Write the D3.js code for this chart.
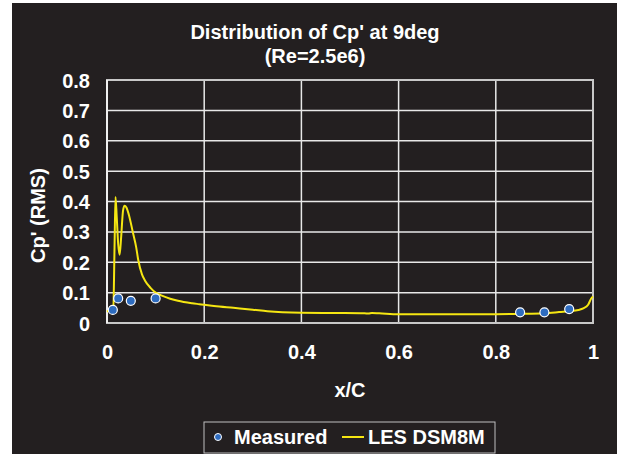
<!DOCTYPE html>
<html>
<head>
<meta charset="utf-8">
<script src="https://cdn.jsdelivr.net/npm/d3@7"></script>
<style>
  html, body { margin: 0; padding: 0; background: #ffffff; }
  svg { display: block; }
  text { font-family: "Liberation Sans", Arial, sans-serif; font-weight: bold; fill: #ffffff; }
</style>
</head>
<body>
<svg id="chart" width="617" height="454"></svg>
<script>
// Measured Cp' (RMS) points
const measuredX = [0.012, 0.023, 0.049, 0.100, 0.850, 0.900, 0.951];
const measuredY = [0.043, 0.081, 0.073, 0.081, 0.035, 0.035, 0.046];

// LES DSM8M Cp' (RMS) distribution along the chord
const lesX = [0.000, 0.006, 0.013, 0.0155, 0.0175, 0.020, 0.023, 0.026, 0.029, 0.033,
              0.036, 0.040, 0.046, 0.053, 0.060, 0.064, 0.072, 0.078, 0.090, 0.100,
              0.113, 0.130, 0.146, 0.175, 0.190, 0.220, 0.260, 0.300, 0.330, 0.400,
              0.470, 0.530, 0.538, 0.545, 0.560, 0.600, 0.700, 0.800, 0.850, 0.900,
              0.930, 0.950, 0.970, 0.980, 0.990, 0.996, 1.000];
const lesY = [0.038, 0.042, 0.050, 0.250, 0.415, 0.350, 0.260, 0.225, 0.280, 0.370,
              0.386, 0.380, 0.350, 0.300, 0.250, 0.210, 0.160, 0.140, 0.115, 0.100,
              0.090, 0.080, 0.073, 0.065, 0.062, 0.056, 0.050, 0.044, 0.039, 0.034,
              0.033, 0.032, 0.031, 0.033, 0.032, 0.029, 0.029, 0.029, 0.030, 0.032,
              0.036, 0.039, 0.043, 0.048, 0.060, 0.080, 0.087];

const xTicks = [0, 0.2, 0.4, 0.6, 0.8, 1];
const yTicks = [0, 0.1, 0.2, 0.3, 0.4, 0.5, 0.6, 0.7, 0.8];

const titleLines = ["Distribution of Cp' at 9deg", "(Re=2.5e6)"];
const xTitle = "x/C";
const yTitle = "Cp' (RMS)";
const seriesNames = ["Measured", "LES DSM8M"];

const bg = "#231f20";
const lineColor = "#f5e612";
const dotColor = "#2e6cc0";
const fontSize = 20;

const svg = d3.select("#chart");
svg.append("rect").attr("x", 12).attr("y", 3).attr("width", 605).attr("height", 451).attr("fill", bg);

const plot = { left: 107, right: 593, top: 80, bottom: 323 };
const x = d3.scaleLinear().domain([0, 1]).range([plot.left, plot.right]);
const y = d3.scaleLinear().domain([0, 0.8]).range([plot.bottom, plot.top]);

// gridlines
const grid = svg.append("g");
grid.selectAll("line.h").data(yTicks.slice(1)).join("line")
  .attr("x1", plot.left).attr("x2", plot.right)
  .attr("y1", d => y(d)).attr("y2", d => y(d))
  .attr("stroke", "#e8e8e8").attr("stroke-width", 1.5);
grid.selectAll("line.v").data(xTicks.slice(1, -1)).join("line")
  .attr("y1", plot.top).attr("y2", plot.bottom)
  .attr("x1", d => x(d)).attr("x2", d => x(d))
  .attr("stroke", "#e8e8e8").attr("stroke-width", 1.5);

// plot frame
svg.append("rect")
  .attr("x", plot.left).attr("y", plot.top)
  .attr("width", plot.right - plot.left).attr("height", plot.bottom - plot.top)
  .attr("fill", "none").attr("stroke", "#c8c8c8").attr("stroke-width", 2);
svg.append("line").attr("x1", plot.left).attr("x2", plot.left)
  .attr("y1", plot.top).attr("y2", plot.bottom)
  .attr("stroke", "#f0f0f0").attr("stroke-width", 2);

// axes (labels only)
const xAxis = svg.append("g").attr("transform", `translate(0,${plot.bottom})`)
  .call(d3.axisBottom(x).tickValues(xTicks).tickFormat(d3.format("")).tickSize(0).tickPadding(0));
xAxis.select(".domain").remove();
xAxis.selectAll("text").attr("dy", null).attr("y", 36).attr("font-size", fontSize)
  .attr("font-family", "Liberation Sans, Arial, sans-serif").attr("font-weight", "bold").attr("fill", "#fff");

const yAxis = svg.append("g").attr("transform", `translate(${plot.left},0)`)
  .call(d3.axisLeft(y).tickValues(yTicks).tickFormat(d3.format("")).tickSize(0).tickPadding(0));
yAxis.select(".domain").remove();
yAxis.selectAll("text").attr("x", -17).attr("dy", "0.35em").attr("font-size", fontSize)
  .attr("font-family", "Liberation Sans, Arial, sans-serif").attr("font-weight", "bold").attr("fill", "#fff");

// titles
svg.selectAll("text.title").data(titleLines).join("text").attr("class", "title")
  .attr("x", 315).attr("y", (d, i) => 39 + i * 24)
  .attr("text-anchor", "middle").attr("font-size", fontSize).text(d => d);

svg.append("text").attr("x", (plot.left + plot.right) / 2).attr("y", 397)
  .attr("text-anchor", "middle").attr("font-size", fontSize).text(xTitle);

svg.append("text").attr("transform", `translate(45,${(plot.top + plot.bottom) / 2 + 14}) rotate(-90)`)
  .attr("text-anchor", "middle").attr("font-size", fontSize).text(yTitle);

// LES curve
const lesData = lesX.map((v, i) => [v, lesY[i]]);
svg.append("path").datum(lesData)
  .attr("fill", "none").attr("stroke", lineColor).attr("stroke-width", 2)
  .attr("stroke-linejoin", "round")
  .attr("d", d3.line().x(d => x(d[0])).y(d => y(d[1])).curve(d3.curveMonotoneX));

// measured points
const measData = measuredX.map((v, i) => [v, measuredY[i]]);
svg.selectAll("circle.m").data(measData).join("circle")
  .attr("cx", d => x(d[0])).attr("cy", d => y(d[1])).attr("r", 4.5)
  .attr("fill", dotColor).attr("stroke", "#ffffff").attr("stroke-width", 1.2);

// legend
const lg = svg.append("g");
lg.append("rect").attr("x", 204).attr("y", 422).attr("width", 291).attr("height", 31)
  .attr("fill", bg).attr("stroke", "#bfbfbf").attr("stroke-width", 1);
lg.append("circle").attr("cx", 218).attr("cy", 437).attr("r", 3.5)
  .attr("fill", dotColor).attr("stroke", "#fff").attr("stroke-width", 1);
lg.append("text").attr("x", 234).attr("y", 444).attr("font-size", fontSize).text(seriesNames[0]);
lg.append("line").attr("x1", 342).attr("x2", 364).attr("y1", 437).attr("y2", 437)
  .attr("stroke", lineColor).attr("stroke-width", 2);
lg.append("text").attr("x", 368).attr("y", 444).attr("font-size", fontSize).text(seriesNames[1]);
</script>
</body>
</html>
